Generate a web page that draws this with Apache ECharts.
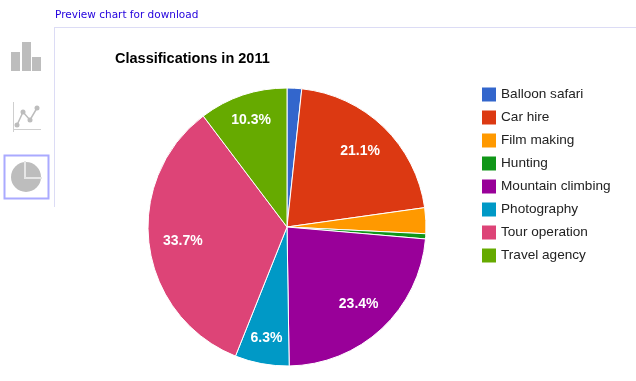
<!DOCTYPE html>
<html><head><meta charset="utf-8">
<style>html,body{margin:0;padding:0;background:#fff}#c{width:636px;height:381px}</style>
<script src="https://cdn.jsdelivr.net/npm/echarts@6/dist/echarts.min.js"></script>
</head><body><div id="c"></div>
<script>
const categories = ['Balloon safari','Car hire','Film making','Hunting','Mountain climbing','Photography','Tour operation','Travel agency'];
const shares = [1.7,21.1,3.0,0.6,23.4,6.3,33.7,10.3];
const shownLabels = ['', '21.1%', '', '', '23.4%', '6.3%', '33.7%', '10.3%'];
const colors = ['#3366cc','#dc3912','#ff9900','#109618','#990099','#0099c6','#dd4477','#66aa00'];
const cx = 287, cy = 227, R = 139;
const gray = '#bdbdbd';
const chart = echarts.init(document.getElementById('c'), null, {renderer:'canvas'});
const rect = (x,y,width,height,fill) => ({type:'rect',silent:true,shape:{x,y,width,height},style:{fill}});
const seg = (x1,y1,x2,y2,stroke,lineWidth) => ({type:'line',silent:true,shape:{x1,y1,x2,y2},style:{stroke,lineWidth}});
const dot = (x,y,r) => ({type:'circle',silent:true,shape:{cx:x,cy:y,r},style:{fill:gray}});
chart.setOption({
  animation:false,
  color:colors,
  title:{text:'Classifications in 2011',left:110,top:46,textStyle:{fontFamily:'Liberation Sans',fontSize:14.5,fontWeight:'bold',color:'#000'}},
  legend:{orient:'vertical',left:477,top:82.5,itemWidth:14,itemHeight:14,itemGap:9,icon:'rect',
    itemStyle:{borderWidth:0},
    textStyle:{fontFamily:'Liberation Sans',fontSize:13.6,color:'#222',padding:[0,0,0,0]},data:categories},
  series:[{type:'pie',center:[cx,cy],radius:[0,R],startAngle:90,clockwise:true,minAngle:0,
    itemStyle:{borderColor:'#fff',borderWidth:1},
    data:categories.map((name,i)=>({name,value:shares[i]})),
    label:{show:true,position:'inside',fontFamily:'Liberation Sans',fontSize:14,fontWeight:'bold',color:'#fff',
      formatter:p=>shownLabels[p.dataIndex]},
    labelLayout:p=>{const r=p.labelRect;const lx=r.x+r.width/2,ly=r.y+r.height/2;
      const push = shares[p.dataIndex] < 15 ? 0.56 : 0.45;
      return {dx:(lx-cx)*push,dy:(ly-cy)*push};},
    labelLine:{show:false},emphasis:{disabled:true}}],
  graphic:[
    {type:'text',silent:true,style:{x:55,y:10,text:'Preview chart for download',fill:'#2200dd',font:'10.5px "DejaVu Sans"'}},
    seg(54,27.5,636,27.5,'#dcdcf5',1),
    seg(54.5,27,54.5,207,'#dcdcf5',1),
    rect(11,52,9,19,gray),rect(22,42,9,29,gray),rect(32,57,9,14,gray),
    seg(13.5,102,13.5,132,'#cfcfcf',1),seg(13,129.5,41,129.5,'#cfcfcf',1),
    {type:'polyline',silent:true,shape:{points:[[17,125],[23,112],[30,120],[37,108]]},style:{fill:'none',stroke:gray,lineWidth:1.5}},
    dot(17,125,2.5),dot(23,112,2.5),dot(30,120,2.5),dot(37,108,2.5),
    {type:'rect',silent:true,shape:{x:4.5,y:155.5,width:44,height:43},style:{fill:'#fff',stroke:'#aaaaff',lineWidth:2}},
    {type:'circle',silent:true,shape:{cx:26,cy:177,r:15},style:{fill:gray}},
    seg(25,161,25,179,'#e6e6e6',2),seg(24,178,42,178,'#e6e6e6',2)
  ]
});
</script></body></html>
